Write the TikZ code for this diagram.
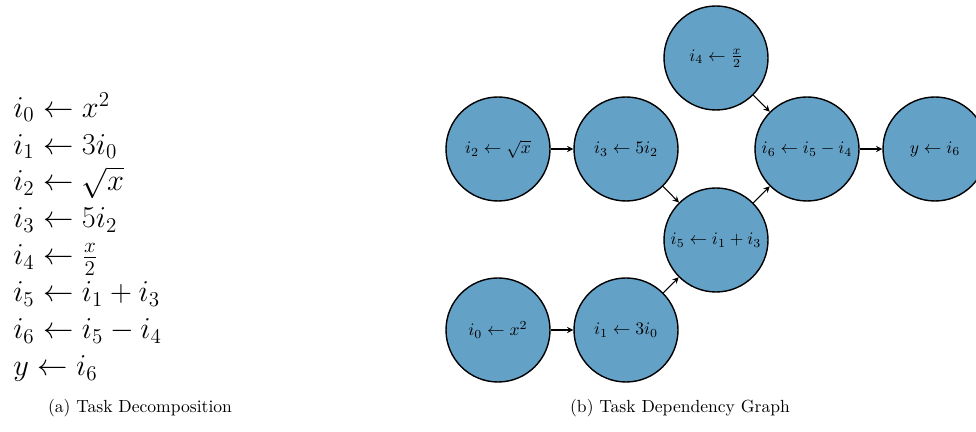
\documentclass[tikz,border=0pt]{standalone}
\usepackage{amsmath}
\usepackage{amssymb}
\usepackage{tikz}
\usetikzlibrary{
  arrows.meta,
  positioning
}
\definecolor{taskblue}{RGB}{100,161,199}

\begin{document}
\begin{tikzpicture}[
      >=stealth,
      task/.style={circle, draw=black, line width=0.8pt, fill=taskblue,
                   minimum size=2.08cm, inner sep=0pt, font=\normalsize},
      dep/.style={->, line width=0.6pt},
      caption/.style={font=\fontsize{10}{12}\selectfont, inner sep=0pt}
  ]
      \useasboundingbox (0,0) rectangle (19.52,8.64);

      % Decomposicao
      \node[align=left, anchor=west, inner sep=0pt,
            font=\fontsize{17.28}{21}\selectfont] (eqs) at (0.26,3.9) {
          $i_0 \leftarrow x^2$\\
          $i_1 \leftarrow 3i_0$\\
          $i_2 \leftarrow \sqrt{x}$\\
          $i_3 \leftarrow 5i_2$\\
          $i_4 \leftarrow \frac{x}{2}$\\
          $i_5 \leftarrow i_1 + i_3$\\
          $i_6 \leftarrow i_5 - i_4$\\
          $y \leftarrow i_6$
      };

      % Grafo de dependencias
      \node[task] (t2) at (9.96,5.66) {$i_2 \leftarrow \sqrt{x}$};
      \node[task] (t3) at (12.52,5.66) {$i_3 \leftarrow 5i_2$};
      \node[task] (t4) at (14.32,7.48) {$i_4 \leftarrow \frac{x}{2}$};
      \node[task] (t5) at (14.32,3.84) {$i_5 \leftarrow i_1 + i_3$};
      \node[task] (t6) at (16.14,5.66) {$i_6 \leftarrow i_5 - i_4$};
      \node[task] (ty) at (18.70,5.66) {$y \leftarrow i_6$};
      \node[task] (t0) at (9.96,2.04) {$i_0 \leftarrow x^2$};
      \node[task] (t1) at (12.52,2.04) {$i_1 \leftarrow 3i_0$};

      \draw[dep] (t2) -- (t3);
      \draw[dep] (t0) -- (t1);
      \draw[dep] (t3) -- (t5);
      \draw[dep] (t1) -- (t5);
      \draw[dep] (t4) -- (t6);
      \draw[dep] (t5) -- (t6);
      \draw[dep] (t6) -- (ty);

      % Legendas
      \node[caption] (capa) at (2.8,0.48) {(a) Task Decomposition};
      \node[caption] (capb) at (13.6,0.48) {(b) Task Dependency Graph};
  \end{tikzpicture}
\end{document}
